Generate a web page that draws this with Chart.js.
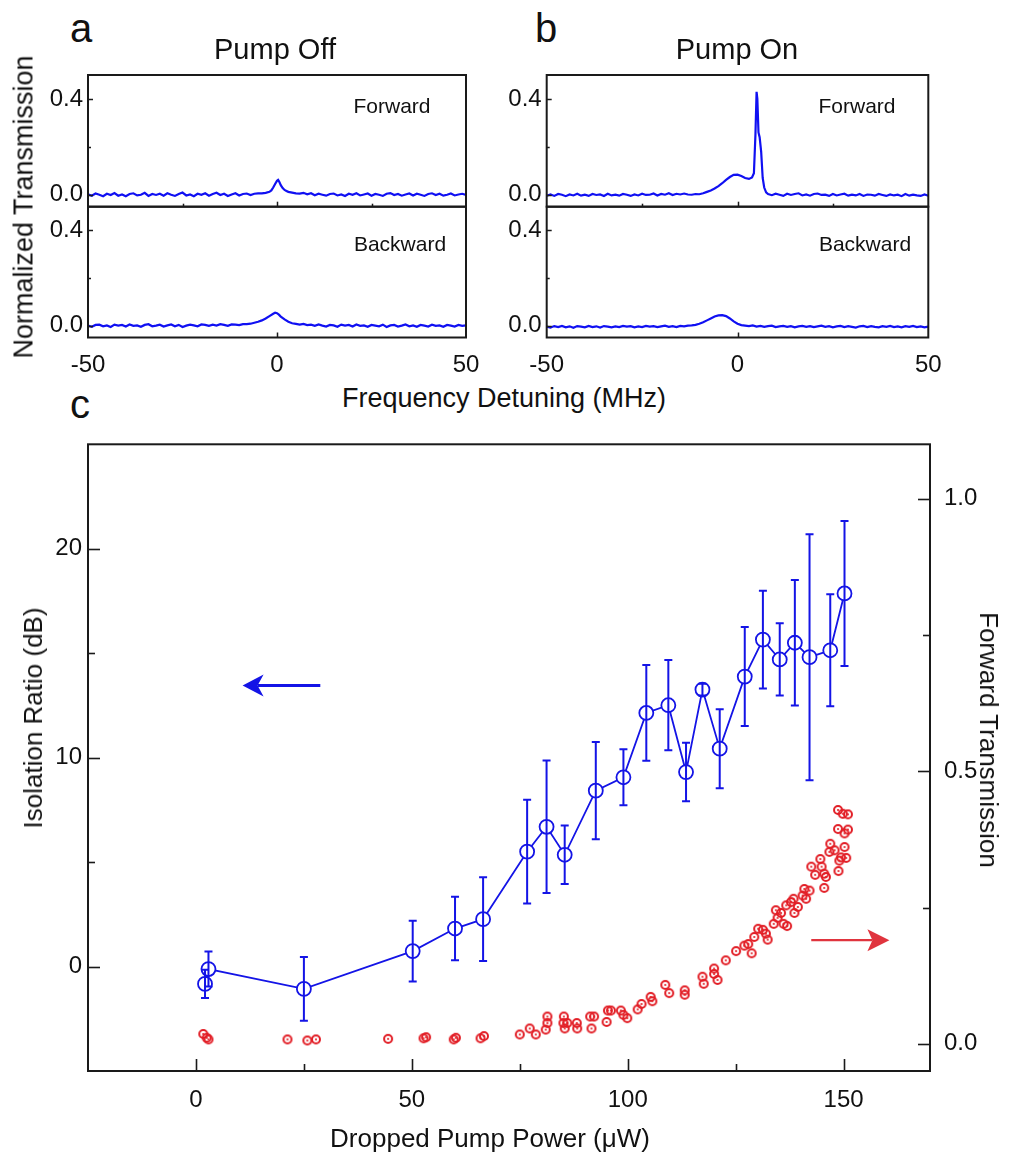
<!DOCTYPE html>
<html><head><meta charset="utf-8">
<script src="https://cdn.jsdelivr.net/npm/chart.js@4.4.1/dist/chart.umd.min.js"></script>
<style>
html,body{margin:0;padding:0;background:#fff;}
#root{position:relative;width:1013px;height:1158px;overflow:hidden;font-family:"Liberation Sans",Arial,sans-serif;color:#111;}
canvas{position:absolute;}
.t{position:absolute;white-space:nowrap;line-height:1;}
.c{transform:translateX(-50%);}
.rl{transform:translate(-50%,-50%) rotate(-90deg);}
.rr{transform:translate(-50%,-50%) rotate(90deg);}
</style></head><body><div id="root">
<canvas id="aU" style="left:0;top:60px"></canvas>
<canvas id="aL" style="left:0;top:200px"></canvas>
<canvas id="bU" style="left:460px;top:60px"></canvas>
<canvas id="bL" style="left:460px;top:200px"></canvas>
<canvas id="cC" style="left:0;top:430px"></canvas>

<div class="t" style="left:70px;top:8px;font-size:40px">a</div>
<div class="t" style="left:535px;top:8px;font-size:40px">b</div>
<div class="t" style="left:70px;top:384px;font-size:40px">c</div>
<div class="t c" style="left:275px;top:35px;font-size:29px">Pump Off</div>
<div class="t c" style="left:737px;top:35px;font-size:29px">Pump On</div>
<div class="t c" style="left:392px;top:95px;font-size:21px">Forward</div>
<div class="t c" style="left:400px;top:233px;font-size:21px">Backward</div>
<div class="t c" style="left:857px;top:95px;font-size:21px">Forward</div>
<div class="t c" style="left:865px;top:233px;font-size:21px">Backward</div>
<div class="t c" style="left:504px;top:385px;font-size:27px">Frequency Detuning (MHz)</div>
<div class="t rl" style="left:24px;top:207px;font-size:27px">Normalized Transmission</div>
<div class="t c" style="left:490px;top:1125px;font-size:26px">Dropped Pump Power (μW)</div>
<div class="t rl" style="left:33px;top:718px;font-size:26px">Isolation Ratio (dB)</div>
<div class="t rr" style="left:989px;top:740px;font-size:26px">Forward Transmission</div>
</div>
<script>
// ---------- DATA: top panels (normalized transmission vs detuning, MHz) ----------
// baseline segments start at -50 MHz (left, 1 MHz steps) and end at +50 MHz (right, 1 MHz steps)
const offFwdLeft = [0.002,-0.004,0.005,0.000,-0.006,0.004,-0.001,0.007,-0.004,0.001,
 -0.006,0.003,0.006,-0.003,0.000,0.008,-0.005,0.003,-0.001,0.004,
 -0.004,0.006,0.000,-0.005,0.003,0.009,-0.003,0.001,-0.006,0.004,
 0.000,0.006,-0.004,0.003,0.008,-0.001,0.004,-0.005,0.001,0.006,
 -0.003,0.003,0.005,-0.001,0.004,0.006];
const offFwdPeakX = [-4,-3,-2,-1.5,-1,-0.5,0,0.3,0.6,1,1.5,2,2.5,3,4,5];
const offFwdPeakY = [0.006,0.008,0.012,0.018,0.030,0.045,0.058,0.062,0.054,0.040,0.028,0.020,0.016,0.012,0.009,0.006];
const offFwdRight = [0.005,0.008,0.002,0.006,-0.002,0.004,0.000,-0.004,0.003,0.005,
 -0.003,0.001,-0.005,0.004,0.000,0.006,-0.003,0.001,0.005,-0.004,
 0.003,0.000,-0.005,0.004,0.007,-0.001,0.003,-0.004,0.001,0.005,
 -0.003,0.004,0.000,-0.005,0.003,0.006,-0.001,0.004,-0.004,0.000,
 0.005,-0.003,0.001,0.004,-0.001];

const offBwdLeft = [0.000,-0.005,0.003,0.004,-0.003,0.001,-0.006,0.004,0.000,0.003,
 -0.004,0.005,-0.001,0.001,-0.005,0.003,0.006,-0.003,0.000,0.004,
 -0.004,0.001,0.005,-0.003,0.003,-0.006,0.000,0.004,0.001,-0.003,
 0.005,0.003,-0.001,0.004,0.000,0.006,0.003,-0.001,0.005,0.004,
 0.002,0.006];
const offBwdPeakX = [-8,-7,-6,-5,-4,-3,-2,-1,-0.5,0,0.5,1,2,3,4,5,6];
const offBwdPeakY = [0.006,0.008,0.012,0.016,0.022,0.030,0.040,0.050,0.054,0.052,0.046,0.038,0.026,0.016,0.010,0.007,0.004];
const offBwdRight = [0.007,0.002,0.004,-0.001,0.005,0.000,-0.004,0.003,0.001,-0.005,
 0.004,0.000,0.003,-0.004,0.005,-0.001,0.001,-0.005,0.003,0.000,
 -0.003,0.004,-0.006,0.001,0.003,-0.004,0.000,0.005,-0.003,0.001,
 -0.005,0.003,0.000,-0.004,0.004,-0.001,0.001,-0.005,0.003,0.000,
 -0.004,0.003,-0.001,0.001];

const onFwdLeft = [-0.004,0.001,-0.005,0.003,0.000,-0.006,0.001,-0.003,0.004,-0.004,
 0.000,-0.005,0.003,-0.001,0.001,-0.005,0.004,-0.003,0.000,-0.004,
 0.003,0.000,-0.005,0.001,-0.003,0.004,-0.001,0.000,0.005,-0.003,
 0.003,0.000,0.006,-0.001,0.004,0.001,0.005];
const onFwdPeakX = [-13,-12,-11,-10,-9,-8,-7,-6,-5,-4,-3,-2,-1,0,1,2,3,3.8,4.3,4.7,5.0,5.2,5.5,5.8,6.2,6.6,7.0,7.5,8,9,10];
const onFwdPeakY = [0.001,0.000,0.003,0.002,0.006,0.012,0.018,0.026,0.036,0.048,0.062,0.074,0.083,0.084,0.078,0.070,0.066,0.072,0.090,0.250,0.430,0.400,0.260,0.240,0.180,0.070,0.030,0.010,0.003,-0.002,0.004];
const onFwdRight = [0.000,-0.005,0.004,-0.001,0.003,0.006,-0.003,0.001,-0.004,0.003,
 0.005,-0.001,0.000,-0.005,0.003,-0.003,0.001,0.004,-0.004,0.000,
 -0.003,0.003,-0.005,0.001,0.000,-0.004,0.003,-0.001,-0.005,0.001,
 -0.003,0.000,-0.006,0.003,-0.004,0.000,-0.003,-0.005,0.001,-0.004];

const onBwdLeft = [-0.004,-0.008,-0.002,-0.006,-0.001,-0.007,-0.003,-0.009,-0.002,-0.004,
 -0.007,-0.001,-0.006,-0.003,-0.008,-0.002,-0.004,-0.007,-0.003,-0.006,
 -0.001,-0.004,-0.002,-0.007,-0.003,-0.006,-0.001,-0.004,-0.002,-0.006,
 -0.003,0.000,-0.005,-0.002,-0.006,-0.001,-0.003,0.000];
const onBwdPeakX = [-12,-11,-10,-9,-8,-7,-6,-5,-4,-3,-2,-1,0,1,2];
const onBwdPeakY = [0.001,0.003,0.008,0.014,0.022,0.030,0.038,0.043,0.044,0.040,0.030,0.018,0.008,0.002,0.000];
const onBwdRight = [-0.002,0.001,-0.004,-0.001,-0.005,-0.002,0.000,-0.006,-0.003,-0.001,
 -0.005,-0.002,-0.007,-0.003,-0.001,-0.005,-0.002,-0.006,-0.003,0.000,
 -0.005,-0.002,-0.007,-0.003,-0.001,-0.006,-0.002,-0.005,-0.008,-0.003,
 -0.001,-0.006,-0.002,-0.005,-0.007,-0.002,-0.005,-0.001,-0.006,-0.003,
 -0.007,-0.002,-0.005,-0.001,-0.006,-0.003,-0.007,-0.004];

const xTicksTop = [-50, 0, 50];
const yTicksTop = [0, 0.4];

// ---------- DATA: panel c ----------
const isoX = [2.1,2.9,25.0,50.2,60.0,66.5,76.7,81.2,85.4,92.6,99.0,104.3,109.4,113.5,117.3,121.3,127.1,131.3,135.2,138.7,142.1,146.9,150.2];
const isoY = [-0.83,-0.12,-1.07,0.74,1.82,2.27,5.50,6.69,5.35,8.42,9.06,12.14,12.51,9.31,13.26,10.43,13.88,15.65,14.70,15.50,14.81,15.14,17.86];
const isoErr = [0.68,0.84,1.53,1.45,1.52,2.00,2.48,3.17,1.40,2.33,1.34,2.29,2.16,1.40,0.28,1.89,2.37,2.34,1.73,3.00,5.89,2.68,3.47];

const fwdX = [1.7,2.5,2.9,21.2,25.8,27.8,44.5,52.7,53.3,59.7,60.2,65.9,66.7,
 75.0,77.3,78.7,81.0,81.4,81.4,85.1,85.2,85.4,86.0,88.2,88.3,91.3,92.2,91.6,
 95.1,95.4,96.1,98.4,99.0,99.9,102.3,103.2,105.3,105.7,108.7,109.6,113.2,113.2,
 117.3,117.6,120.0,120.0,120.8,122.7,125.1,127.0,127.9,128.7,129.3,130.2,131.3,132.0,132.4,
 133.8,134.3,134.7,135.5,136.1,136.7,136.9,137.8,138.4,138.6,139.4,140.5,140.9,141.3,142.1,
 142.5,143.4,144.6,144.9,145.5,145.5,145.9,146.7,146.9,147.9,148.7,148.7,148.8,149.0,149.4,149.8,150.2,150.2,151.0,151.0,150.6];
const fwdY = [0.018,0.011,0.008,0.008,0.006,0.008,0.009,0.010,0.012,0.008,0.011,0.010,0.014,
 0.017,0.028,0.017,0.026,0.038,0.050,0.038,0.050,0.028,0.038,0.038,0.028,0.050,0.050,0.028,
 0.040,0.061,0.061,0.061,0.053,0.047,0.063,0.073,0.086,0.078,0.108,0.093,0.098,0.090,
 0.123,0.110,0.138,0.128,0.117,0.153,0.170,0.180,0.183,0.166,0.196,0.211,0.209,0.202,0.191,
 0.220,0.245,0.231,0.240,0.220,0.254,0.216,0.260,0.266,0.240,0.251,0.272,0.284,0.266,0.281,
 0.325,0.310,0.339,0.325,0.286,0.312,0.306,0.352,0.367,0.355,0.429,0.394,0.317,0.336,0.342,0.422,0.386,0.361,0.421,0.393,0.341];

const xTicksC = [0, 50, 100, 150];
const yTicksC = [0, 10, 20];
const y2TicksC = [0, 0.5, 1.0];

// annotation arrows (data coordinates)
const blueArrow = {x1: 28.8, x2: 10.8, y: 13.45};
const redArrow = {x1: 142.5, x2: 160.6, y: 0.19};

// ---------- rendering ----------
const FONT = 'Liberation Sans, Arial, sans-serif';
Chart.defaults.font.family = FONT;
Chart.defaults.color = '#111';
const BLUE = '#1414e6';
const TBLUE = '#1010f2';
const RED = '#e21e26';
const INK = '#1a1a1a';

function buildTrace(left, px, py, right){
  const pts = [];
  left.forEach((v,i)=>pts.push({x:-50+i, y:v}));
  px.forEach((x,i)=>pts.push({x:x, y:py[i]}));
  right.forEach((v,i)=>pts.push({x:50-right.length+1+i, y:v}));
  return pts;
}

function framePlugin(cfg){
  return {id:'frame', afterDraw(chart){
    const {ctx, chartArea:{left,top,right,bottom}} = chart;
    ctx.save();
    ctx.strokeStyle = INK; ctx.lineWidth = cfg.lw;
    ctx.strokeRect(left, top, right-left, bottom-top);
    ctx.lineWidth = cfg.tw;
    cfg.marks.forEach(m=>{
      const sc = chart.scales[m.axis];
      const draw=(v,len)=>{
        const p = Math.round(sc.getPixelForValue(v))+0.5;
        ctx.beginPath();
        if(m.side==='bottom'){ctx.moveTo(p,bottom);ctx.lineTo(p,bottom-len);}
        else if(m.side==='left'){ctx.moveTo(left,p);ctx.lineTo(left+len,p);}
        else {ctx.moveTo(right,p);ctx.lineTo(right-len,p);}
        ctx.stroke();
      };
      m.major.forEach(v=>draw(v,cfg.majorLen));
      m.minor.forEach(v=>draw(v,cfg.minorLen));
    });
    ctx.restore();
  }};
}

function setSize(id,w,h){const c=document.getElementById(id);c.width=w;c.height=h;c.style.width=w+'px';c.style.height=h+'px';return c;}
const fixY = (w)=>(s)=>{s.width = w; s.paddingTop = 0; s.paddingBottom = 0;};
const fixX = (h)=>(s)=>{s.height = h; s.paddingLeft = 0; s.paddingRight = 0;};

function traceChart(id, w, h, pts, showX, yW, pad, xH, xMinor){
  const c = setSize(id, w, h);
  new Chart(c, {
    type:'line',
    data:{datasets:[{data:pts, borderColor:TBLUE, borderWidth:2.2, pointRadius:0, tension:0, fill:false}]},
    options:{
      responsive:false, animation:false, events:[],
      layout:{padding:pad},
      plugins:{legend:{display:false}, tooltip:{enabled:false}},
      scales:{
        x:{type:'linear', min:-50, max:50, display:showX,
           afterBuildTicks:s=>{s.ticks = xTicksTop.map(v=>({value:v}));},
           grid:{display:false, drawTicks:false}, border:{display:false},
           ticks:{padding:13, font:{size:24}, color:'#111', maxRotation:0, callback:v=>String(v)},
           afterFit:fixX(xH)},
        y:{type:'linear', min:-0.05, max:0.5,
           afterBuildTicks:s=>{s.ticks = yTicksTop.map(v=>({value:v}));},
           grid:{display:false, drawTicks:false}, border:{display:false},
           ticks:{padding:5, font:{size:24}, color:'#111', callback:v=>Number(v).toFixed(1)},
           afterFit:fixY(yW)}
      }
    },
    plugins:[framePlugin({lw:2, tw:1.5, majorLen:5, minorLen:3, marks:[
      {axis:'x', side:'bottom', major:[0], minor:xMinor},
      {axis:'y', side:'left', major:[0,0.4], minor:[0.2]}
    ]})]
  });
}

// panel a (plot area x 88..466, y 75..207 / 207..337.5)
traceChart('aU', 490, 150, buildTrace(offFwdLeft, offFwdPeakX, offFwdPeakY, offFwdRight), false, 88, {top:15, right:24, bottom:3.3, left:0}, 0, [-25,25]);
traceChart('aL', 490, 180, buildTrace(offBwdLeft, offBwdPeakX, offBwdPeakY, offBwdRight), true, 88, {top:6.7, right:24, bottom:0, left:0}, 42.5, []);
// panel b (plot area x 546.7..928.3)
traceChart('bU', 553, 150, buildTrace(onFwdLeft, onFwdPeakX, onFwdPeakY, onFwdRight), false, 86.7, {top:15, right:84.7, bottom:3.3, left:0}, 0, [-25,25]);
traceChart('bL', 553, 180, buildTrace(onBwdLeft, onBwdPeakX, onBwdPeakY, onBwdRight), true, 86.7, {top:6.7, right:84.7, bottom:0, left:0}, 42.5, []);

// panel c
function redMarker(){
  const c=document.createElement('canvas'); c.width=14; c.height=14;
  const g=c.getContext('2d');
  g.strokeStyle=RED; g.lineWidth=2;
  g.beginPath(); g.arc(7,7,4.0,0,Math.PI*2); g.stroke();
  g.fillStyle=RED; g.beginPath(); g.arc(7,7,1.1,0,Math.PI*2); g.fill();
  return c;
}

const errorBars = {id:'errorBars', afterDatasetsDraw(chart){
  const {ctx} = chart; const sx = chart.scales.x, sy = chart.scales.y;
  ctx.save(); ctx.strokeStyle = BLUE; ctx.lineWidth = 2;
  isoX.forEach((x,i)=>{
    const px = sx.getPixelForValue(x);
    const t = sy.getPixelForValue(isoY[i]+isoErr[i]);
    const b = sy.getPixelForValue(isoY[i]-isoErr[i]);
    ctx.beginPath();
    ctx.moveTo(px,t); ctx.lineTo(px,b);
    ctx.moveTo(px-4,t); ctx.lineTo(px+4,t);
    ctx.moveTo(px-4,b); ctx.lineTo(px+4,b);
    ctx.stroke();
  });
  ctx.restore();
}};

function arrow(ctx, xa, xb, y, color, lw, L, W, notch){
  const dir = xb > xa ? 1 : -1;
  ctx.save(); ctx.strokeStyle=color; ctx.fillStyle=color; ctx.lineWidth=lw;
  ctx.beginPath(); ctx.moveTo(xa,y); ctx.lineTo(xb-dir*notch,y); ctx.stroke();
  ctx.beginPath(); ctx.moveTo(xb,y); ctx.lineTo(xb-dir*L,y-W); ctx.lineTo(xb-dir*notch,y); ctx.lineTo(xb-dir*L,y+W); ctx.closePath(); ctx.fill();
  ctx.restore();
}
const arrows = {id:'arrows', afterDatasetsDraw(chart){
  const {ctx} = chart; const sx=chart.scales.x;
  const yb = chart.scales.y.getPixelForValue(blueArrow.y);
  arrow(ctx, sx.getPixelForValue(blueArrow.x1), sx.getPixelForValue(blueArrow.x2), yb, BLUE, 3, 21, 11, 15);
  const yr = chart.scales.y2.getPixelForValue(redArrow.y);
  arrow(ctx, sx.getPixelForValue(redArrow.x1), sx.getPixelForValue(redArrow.x2), yr, '#e0343e', 2.2, 22, 11, 17);
}};

const cc = setSize('cC', 1013, 728);
new Chart(cc, {
  type:'scatter',
  data:{datasets:[
    {label:'Isolation Ratio', data:isoX.map((x,i)=>({x:x, y:isoY[i]})), yAxisID:'y', showLine:true,
     borderColor:BLUE, borderWidth:1.8, pointRadius:7, pointBorderWidth:1.8, pointBorderColor:BLUE, pointBackgroundColor:'#fff'},
    {label:'Forward Transmission', data:fwdX.map((x,i)=>({x:x, y:fwdY[i]})), yAxisID:'y2',
     pointStyle:redMarker(), pointRadius:5, borderColor:RED, backgroundColor:RED}
  ]},
  options:{
    responsive:false, animation:false, events:[],
    layout:{padding:{top:14.3, right:0, bottom:0, left:0}},
    plugins:{legend:{display:false}, tooltip:{enabled:false}},
    scales:{
      x:{type:'linear', min:-25, max:170,
         afterBuildTicks:s=>{s.ticks = xTicksC.map(v=>({value:v}));},
         grid:{display:false, drawTicks:false}, border:{display:false},
         ticks:{padding:15, font:{size:24}, color:'#111', maxRotation:0, callback:v=>String(v)},
         afterFit:fixX(87)},
      y:{type:'linear', position:'left', min:-5, max:25,
         afterBuildTicks:s=>{s.ticks = yTicksC.map(v=>({value:v}));},
         grid:{display:false, drawTicks:false}, border:{display:false},
         ticks:{padding:6, font:{size:24}, color:'#111', callback:v=>String(v)},
         afterFit:fixY(88)},
      y2:{type:'linear', position:'right', min:-0.05, max:1.1,
         afterBuildTicks:s=>{s.ticks = y2TicksC.map(v=>({value:v}));},
         grid:{display:false, drawTicks:false}, border:{display:false},
         ticks:{padding:14, font:{size:24}, color:'#111', callback:v=>Number(v).toFixed(1)},
         afterFit:fixY(83)}
    }
  },
  plugins:[errorBars, arrows, framePlugin({lw:2, tw:1.6, majorLen:12, minorLen:7, marks:[
    {axis:'x', side:'bottom', major:[0,50,100,150], minor:[25,75,125]},
    {axis:'y', side:'left', major:[0,10,20], minor:[5,15]},
    {axis:'y2', side:'right', major:[0,0.5,1.0], minor:[0.25,0.75]}
  ]})]
});
</script>
</body></html>
